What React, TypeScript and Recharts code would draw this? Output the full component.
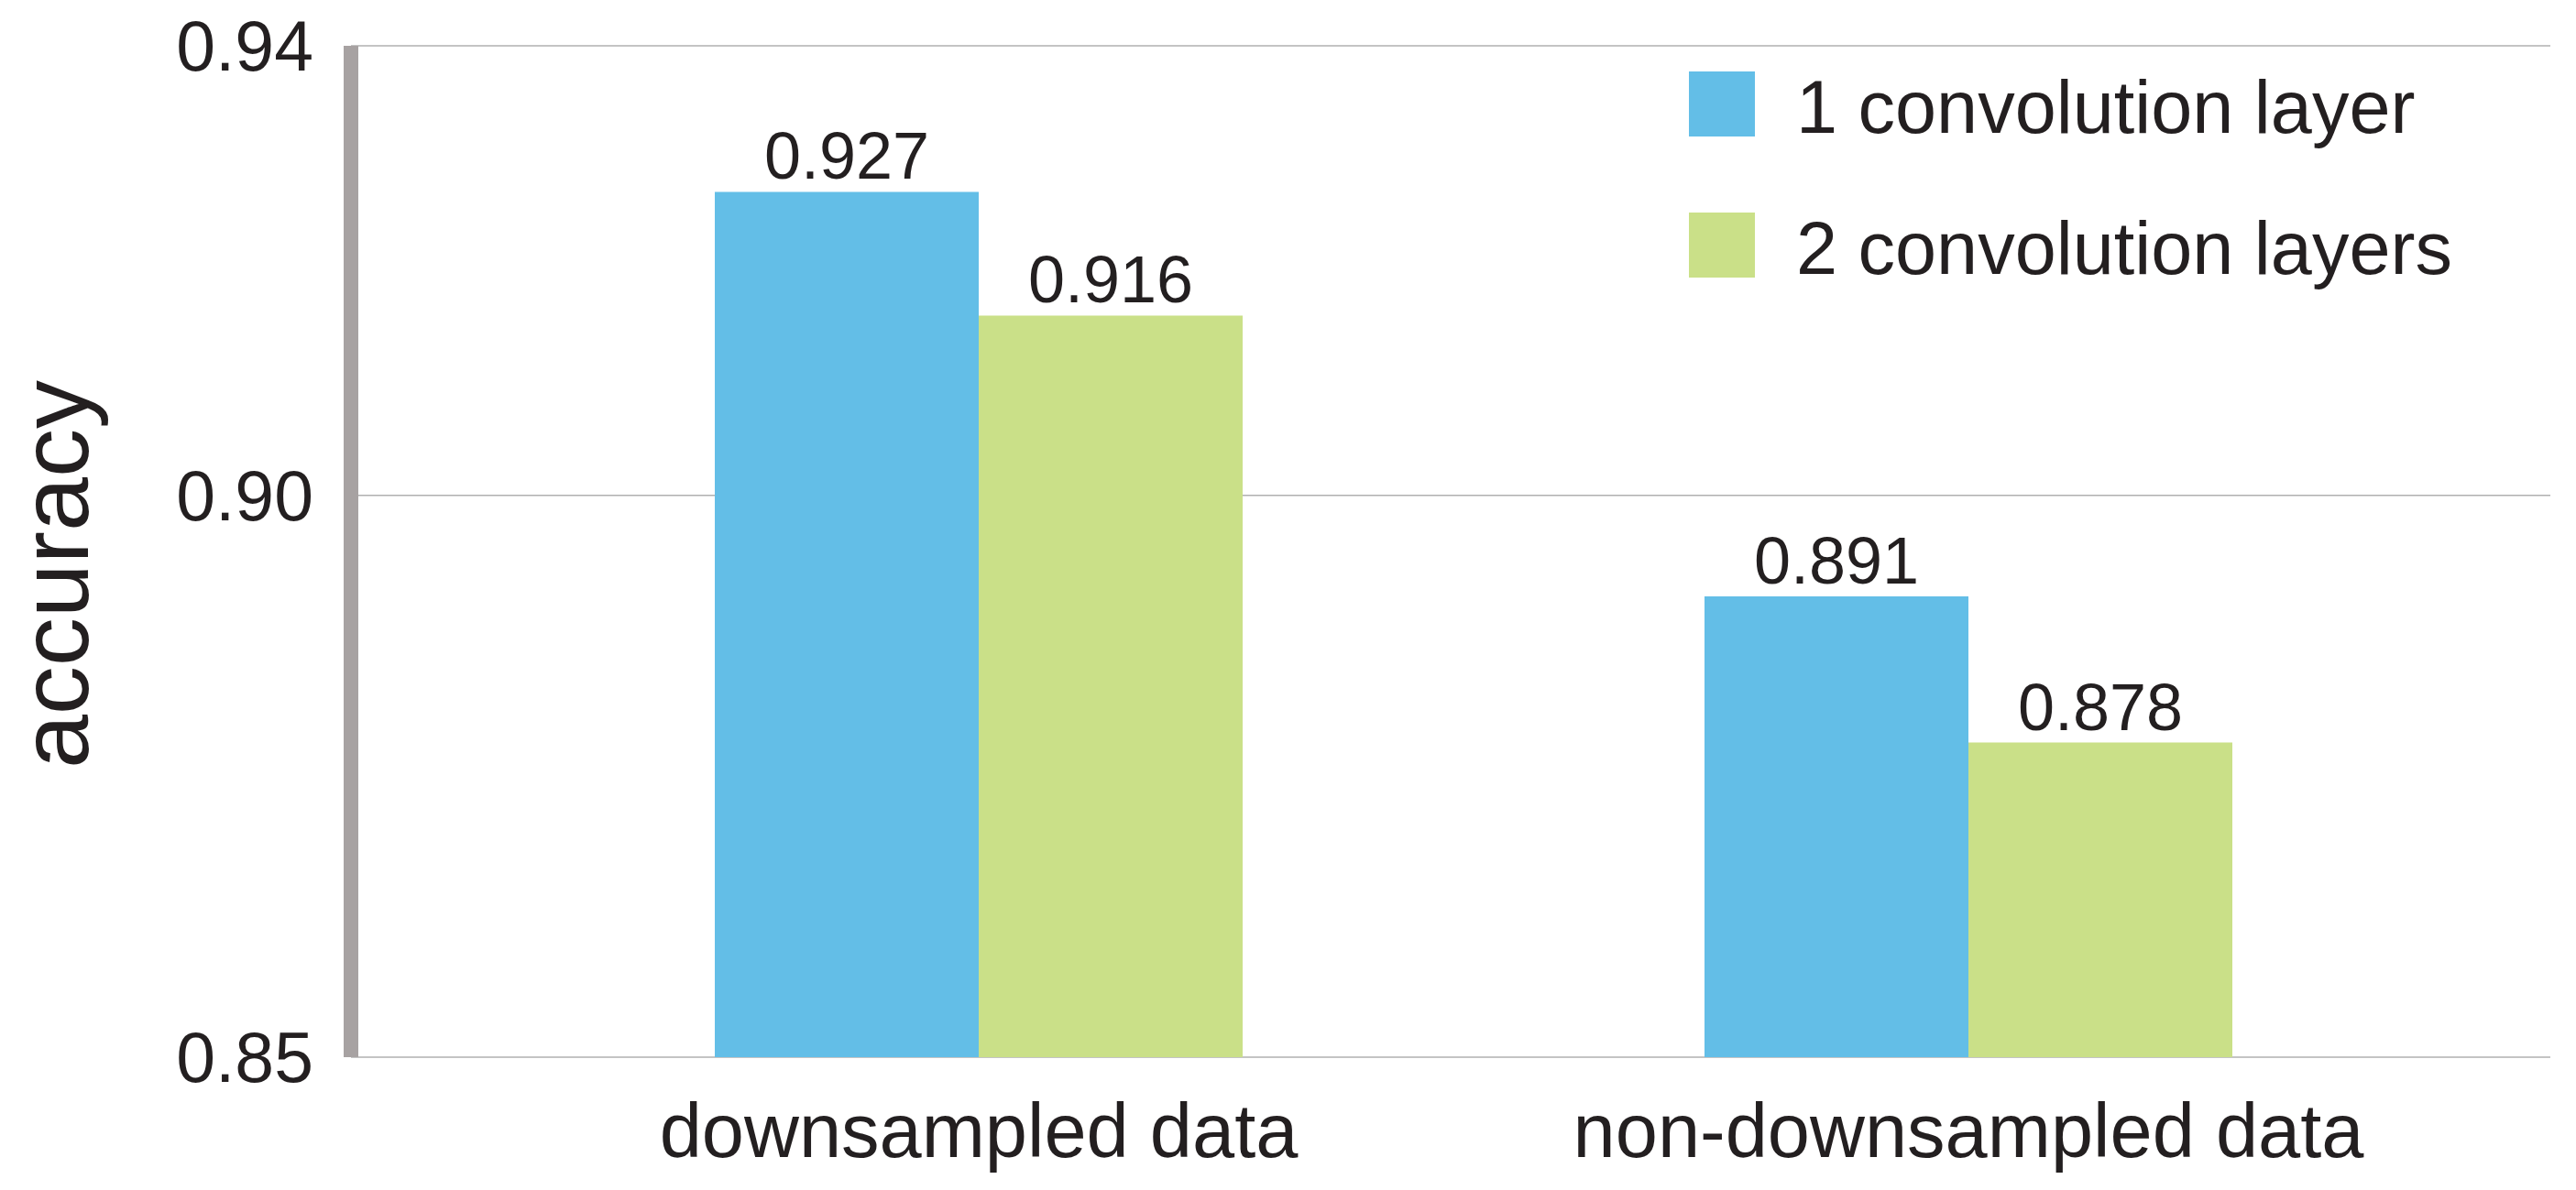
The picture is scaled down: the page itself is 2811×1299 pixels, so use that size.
import { BarChart, Bar, XAxis, YAxis, CartesianGrid, Legend, LabelList } from 'recharts';

const categories = ['downsampled data', 'non-downsampled data'];
const oneLayer = [0.927, 0.891];
const twoLayers = [0.916, 0.878];
const yTicks = [0.85, 0.9, 0.94];
const seriesNames = ['1 convolution layer', '2 convolution layers'];

const BLUE = '#63bee7';
const GREEN = '#cae088';
const TEXT = '#231f20';
const FONT = '"Liberation Sans", Arial, sans-serif';

const data = categories.map((category, i) => ({
  category,
  one: oneLayer[i],
  two: twoLayers[i],
}));

// legend is drawn as its own svg; wrapper has no height so the plot keeps its size
function renderLegend(props: any) {
  const { payload = [] } = props;
  return (
    <svg width={900} height={300} style={{ display: 'block', overflow: 'visible' }}>
      {payload.map((entry: any, i: number) => (
        <g key={entry.value} transform={`translate(0, ${i * 154})`}>
          <rect x={0} y={0} width={72} height={71} fill={entry.color} />
          <text x={117} y={67} fontSize={81} fontFamily={FONT} fill={TEXT}>
            {entry.value}
          </text>
        </g>
      ))}
    </svg>
  );
}

function AxisTitle() {
  return (
    <text
      x={96}
      y={627}
      transform="rotate(-90 96 627)"
      textAnchor="middle"
      fontSize={106}
      fontFamily={FONT}
      fill={TEXT}
    >
      accuracy
    </text>
  );
}

export default function App() {
  return (
    <div style={{ position: 'absolute', left: 0, top: 0, background: '#fff' }}>
      <BarChart
        width={2811}
        height={1299}
        data={data}
        margin={{ top: 50, right: 28, bottom: 0, left: 0 }}
        barGap={0}
      >
        <CartesianGrid horizontal vertical={false} stroke="#b0b0b0" strokeWidth={1.5} />
        <XAxis
          dataKey="category"
          height={145}
          padding={{ left: 145, right: 95 }}
          axisLine={false}
          tickLine={false}
          tickSize={0}
          tickMargin={50}
          tick={{ fontSize: 83, fontFamily: FONT, fill: TEXT }}
        />
        <YAxis
          width={383}
          domain={[0.85, 0.94]}
          ticks={yTicks}
          interval={0}
          tickFormatter={(v: number) => v.toFixed(2)}
          axisLine={{ stroke: '#a7a2a2', strokeWidth: 16 }}
          tickLine={false}
          tickSize={0}
          tickMargin={41}
          tick={{ fontSize: 77, fontFamily: FONT, fill: TEXT }}
          label={<AxisTitle />}
        />
        <Legend
          verticalAlign="top"
          content={renderLegend}
          wrapperStyle={{ left: 1843, top: 78, width: 900, height: 0, overflow: 'visible' }}
        />
        <Bar dataKey="one" name={seriesNames[0]} fill={BLUE} barSize={288} isAnimationActive={false}>
          <LabelList
            dataKey="one"
            position="top"
            offset={14}
            style={{ fontSize: 72, fontFamily: FONT, fill: TEXT }}
          />
        </Bar>
        <Bar dataKey="two" name={seriesNames[1]} fill={GREEN} barSize={288} isAnimationActive={false}>
          <LabelList
            dataKey="two"
            position="top"
            offset={14}
            style={{ fontSize: 72, fontFamily: FONT, fill: TEXT }}
          />
        </Bar>
      </BarChart>
    </div>
  );
}
